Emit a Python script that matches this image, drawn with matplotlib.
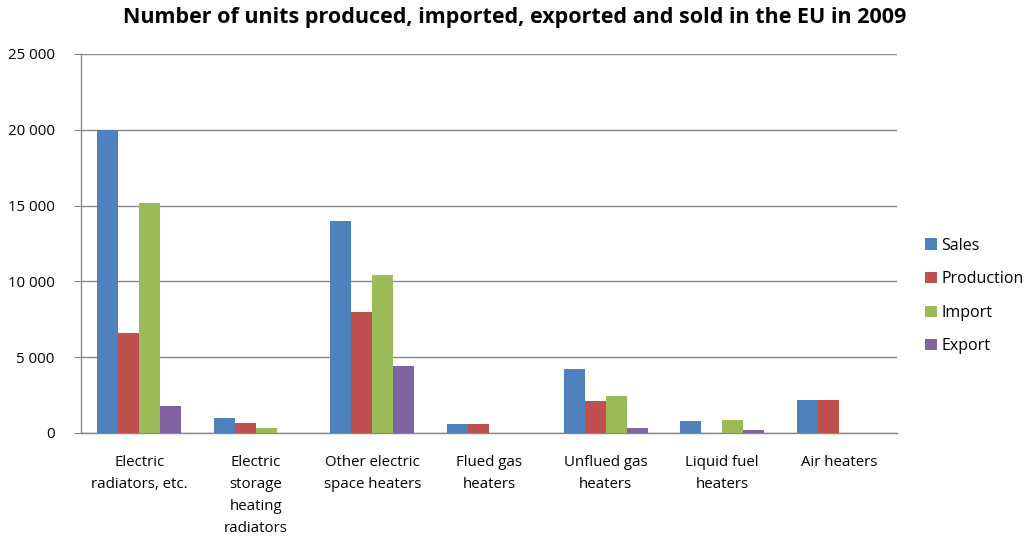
import matplotlib
matplotlib.use("Agg")
import matplotlib.pyplot as plt
import numpy as np
from matplotlib.ticker import FuncFormatter

categories = ["Electric\nradiators, etc.", "Electric\nstorage\nheating\nradiators",
              "Other electric\nspace heaters", "Flued gas\nheaters", "Unflued gas\nheaters",
              "Liquid fuel\nheaters", "Air heaters"]
series_names = ["Sales", "Production", "Import", "Export"]
sales = [20000, 960, 14000, 600, 4200, 780, 2200]
production = [6600, 630, 8000, 600, 2100, 30, 2200]
imports = [15150, 360, 10400, 0, 2450, 880, 0]
exports = [1750, 30, 4400, 30, 320, 190, 0]
yticks = [0, 5000, 10000, 15000, 20000, 25000]
colors = ["#4F81BD", "#C0504D", "#9BBB59", "#8064A2"]

plt.rcParams['font.family'] = ['Open Sans', 'DejaVu Sans']

fig = plt.figure(figsize=(10.3, 5.37), dpi=100)
ax = fig.add_axes([81/1030, 1-433/537, 816/1030, 379/537])

x = np.arange(len(categories))
w = 0.18
data = [sales, production, imports, exports]
for i, (vals, c, name) in enumerate(zip(data, colors, series_names)):
    ax.bar(x + (i - 1.5) * w, vals, width=w, color=c, label=name, zorder=3)

ax.set_xlim(-0.5, len(categories) - 0.5)
ax.set_ylim(0, 25000)
ax.set_yticks(yticks)
ax.yaxis.set_major_formatter(FuncFormatter(lambda v, p: f"{int(v):,}".replace(",", " ")))
ax.grid(axis='y', color='#888888', linewidth=1.0, zorder=0)
ax.set_xticks(x)
ax.set_xticklabels(categories, fontsize=10.8, linespacing=1.62, va='top')
ax.tick_params(axis='x', length=0, pad=16)
ax.tick_params(axis='y', length=5, color='#888888', labelsize=10.8, pad=14)
for s in ['top', 'right']:
    ax.spines[s].set_visible(False)
for s in ['left', 'bottom']:
    ax.spines[s].set_color('#888888')
    ax.spines[s].set_linewidth(1.0)

fig.text(0.5, 1-18/537, "Number of units produced, imported, exported and sold in the EU in 2009",
         ha='center', va='center', fontsize=15.5, fontweight='bold')

leg = fig.legend(loc='center left', bbox_to_anchor=(911/1030, 1-296/537), frameon=False,
                 fontsize=11.5, handlelength=0.7, handleheight=0.7, labelspacing=1.1,
                 handletextpad=0.3)

fig.savefig("out.png", dpi=100)
